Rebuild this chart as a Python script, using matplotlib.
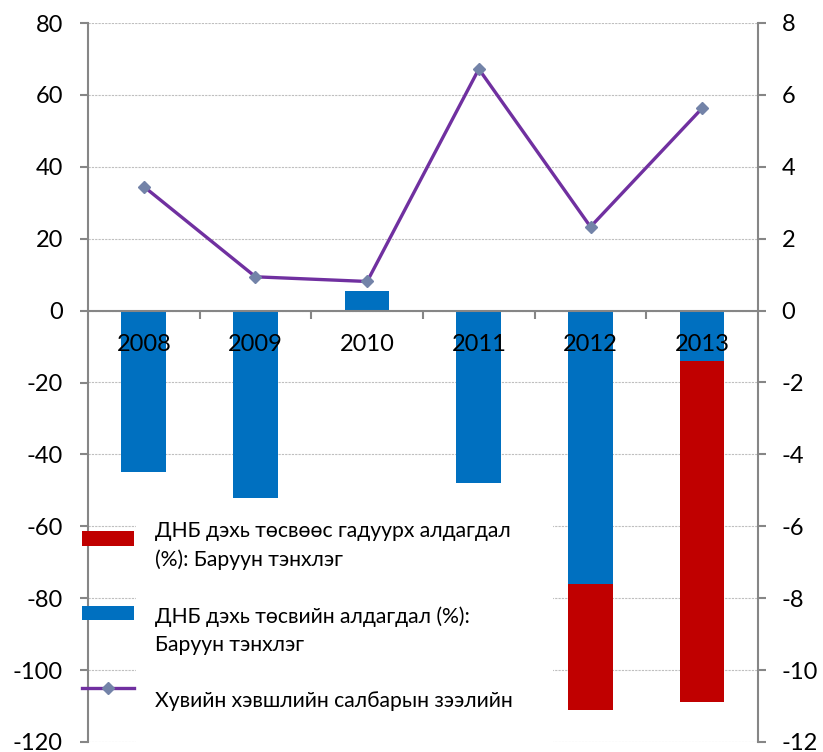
import matplotlib
matplotlib.use('Agg')
import matplotlib.pyplot as plt
from matplotlib.patches import Rectangle
from matplotlib.legend_handler import HandlerPatch, HandlerLine2D
import numpy as np

plt.rcParams['axes.unicode_minus'] = False
plt.rcParams['font.family'] = ['Lato', 'DejaVu Sans']

years = ['2008', '2009', '2010', '2011', '2012', '2013']
budget_deficit = [-4.5, -5.2, 0.55, -4.8, -7.6, -1.4]      # right axis (%)
offbudget_deficit = [0.0, 0.0, 0.0, 0.0, -3.5, -9.5]      # right axis (%)
credit_growth = [34.5, 9.4, 8.1, 67.2, 23.3, 56.3]        # left axis
left_ticks = [80, 60, 40, 20, 0, -20, -40, -60, -80, -100, -120]
right_ticks = [8, 6, 4, 2, 0, -2, -4, -6, -8, -10, -12]
legend_labels = ['ДНБ дэхь төсвөөс гадуурх алдагдал\n(%): Баруун тэнхлэг',
                 'ДНБ дэхь төсвийн алдагдал (%):\nБаруун тэнхлэг',
                 'Хувийн хэвшлийн салбарын зээлийн']

W, H = 823, 752
fig = plt.figure(figsize=(W / 100, H / 100), dpi=100)
ax = fig.add_axes([88 / W, 10 / H, 670 / W, 719 / H])
ax2 = ax.twinx()
ax.set_zorder(2)
ax2.set_zorder(1)
ax.patch.set_visible(False)

gray = '#868686'
x = np.arange(len(years))

blue = ax2.bar(x, budget_deficit, width=0.4, color='#0070C0', zorder=3)
red_bottom = [min(b, 0) for b in budget_deficit]
red = ax2.bar(x, offbudget_deficit, width=0.4, bottom=red_bottom, color='#C00000', zorder=3)
line, = ax.plot(x, credit_growth, color='#7030A0', lw=2.4, marker='D', ms=6.5,
                mfc='#7383A8', mec='#7383A8', zorder=5)

ax.set_xlim(-0.5, len(years) - 0.5)
ax.set_ylim(-120, 80)
ax2.set_ylim(-12, 8)
ax.set_yticks(left_ticks)
ax2.set_yticks(right_ticks)

ax2.set_axisbelow(True)
ax2.grid(axis='y', color='#BFBFBF', linestyle=(0, (2, 1)), lw=0.8)
ax2.add_patch(Rectangle((48 / 670, 0), (553 - 136) / 670, 0.34, transform=ax2.transAxes,
                        facecolor='white', edgecolor='none', zorder=1))

for s in ['top', 'right']:
    ax.spines[s].set_visible(False)
for s in ['top', 'bottom', 'left']:
    ax2.spines[s].set_visible(False)
ax.spines['bottom'].set_position(('data', 0))
ax.spines['bottom'].set_color(gray)
ax.spines['bottom'].set_linewidth(1.5)
ax.spines['left'].set_color(gray)
ax.spines['left'].set_linewidth(1.5)
ax2.spines['right'].set_color(gray)
ax2.spines['right'].set_linewidth(1.5)

ax.set_xticks(x, years)
ax.set_xticks(x[:-1] + 0.5, minor=True)
ax.tick_params(axis='x', which='major', length=0, pad=17, labelsize=17)
ax.tick_params(axis='x', which='minor', length=6, width=1.5, color=gray, direction='out')
ax.tick_params(axis='y', length=6, width=1.5, color=gray, pad=12, labelsize=17)
ax2.tick_params(axis='y', length=6, width=1.5, color=gray, pad=11, labelsize=17)


def shifted_patch(dy):
    def f(legend, orig_handle, xdescent, ydescent, width, height, fontsize):
        return Rectangle((-xdescent, -ydescent + dy), width, height)
    return HandlerPatch(patch_func=f)


class ShiftedLine(HandlerLine2D):
    def __init__(self, dy, **kw):
        super().__init__(**kw)
        self.dy = dy

    def create_artists(self, legend, orig_handle, xdescent, ydescent, width, height,
                       fontsize, trans):
        return super().create_artists(legend, orig_handle, xdescent, ydescent - 2 * self.dy,
                                      width, height, fontsize, trans)


leg = fig.legend([red[0], blue[0], line], legend_labels, loc='upper left',
                 bbox_to_anchor=(82 / W, 1 - 521 / H), frameon=False, fontsize=15.2,
                 handlelength=2.47, handleheight=0.71, handletextpad=1.0,
                 labelspacing=1.74, borderpad=0, borderaxespad=0,
                 handler_map={red[0]: shifted_patch(5.6), blue[0]: shifted_patch(13.0),
                              line: ShiftedLine(8.6)})
for t in leg.get_texts():
    t.set_linespacing(1.48)

fig.savefig('out.png', dpi=100, facecolor='white')
